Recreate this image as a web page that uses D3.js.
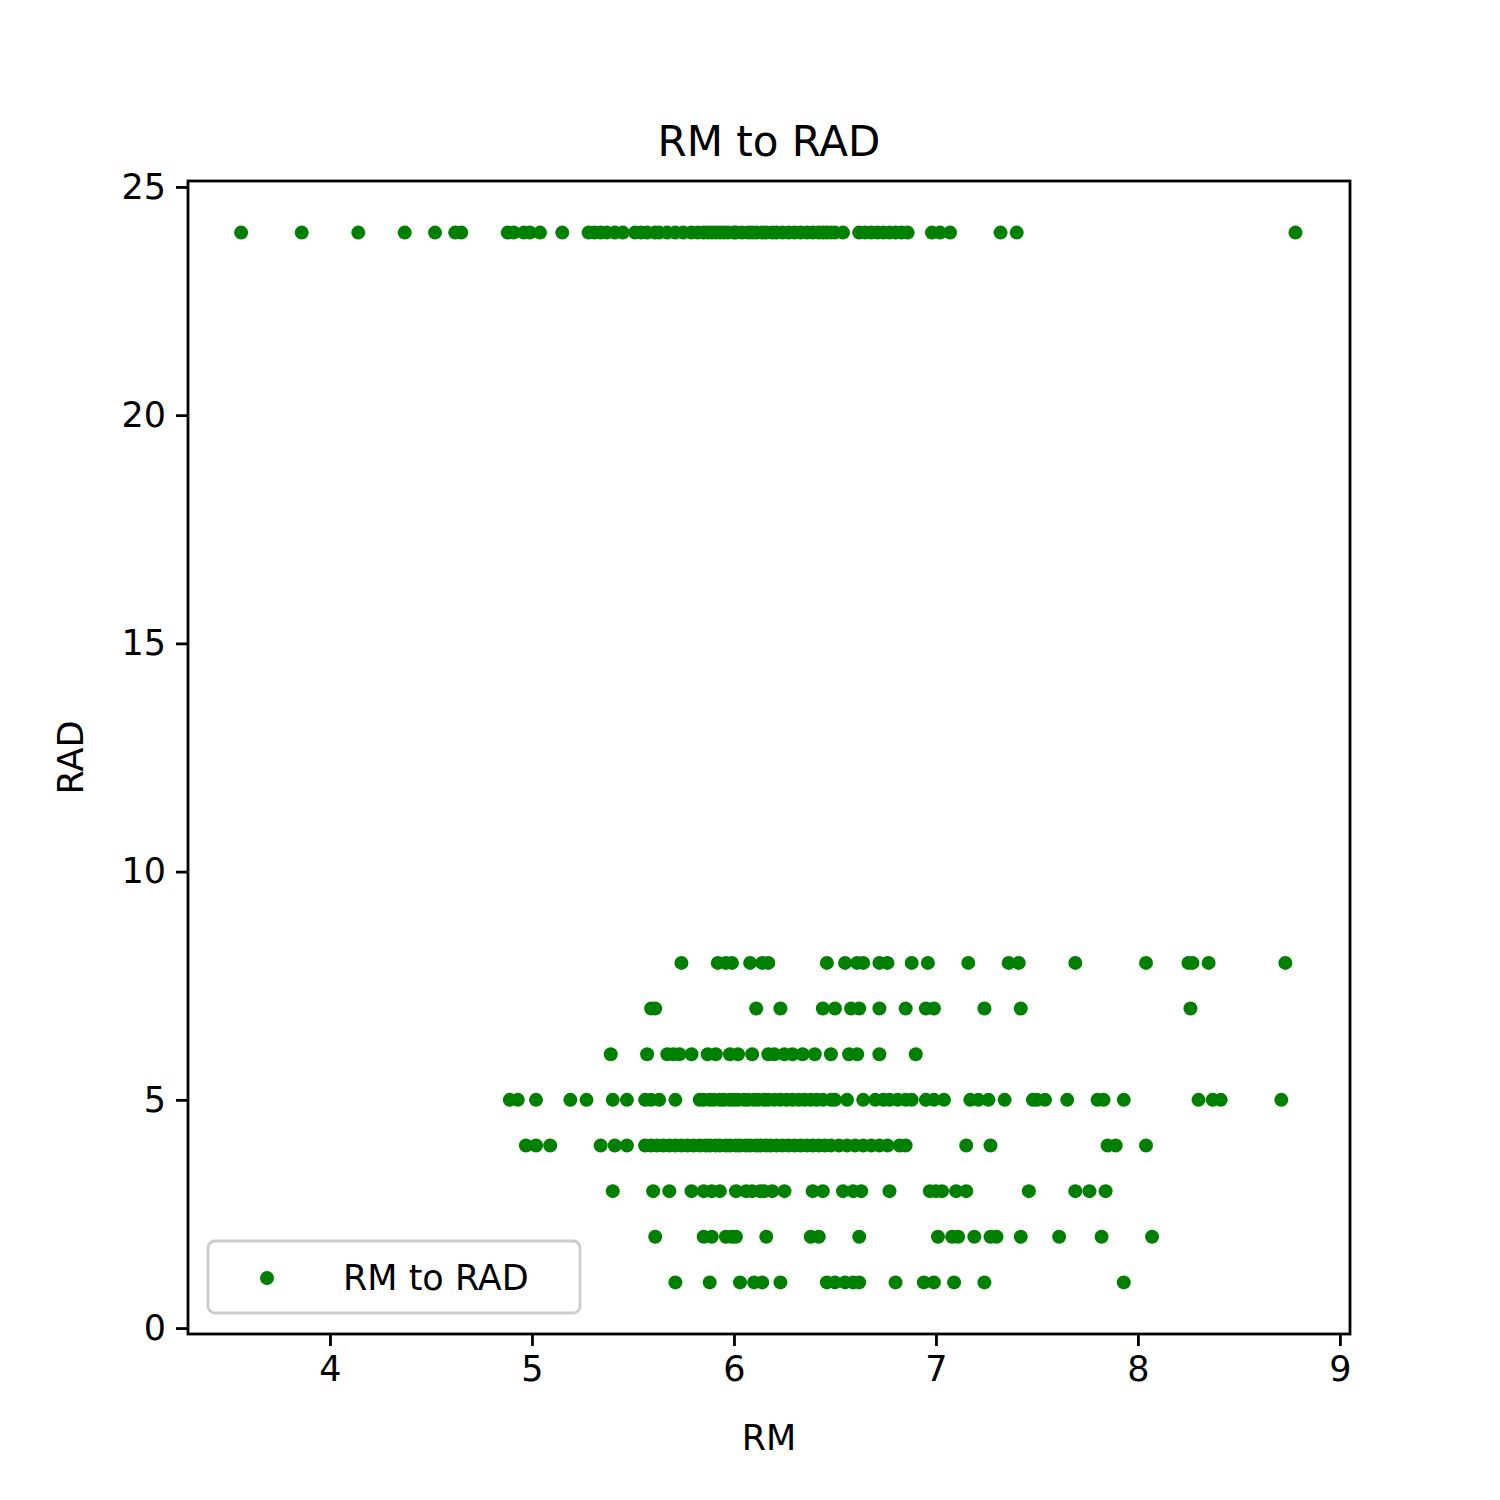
<!DOCTYPE html><html><head><script src="https://cdn.jsdelivr.net/npm/d3@7"></script>
<style>body{margin:0;background:#fff}text{font-family:"DejaVu Sans",sans-serif}</style></head><body><svg id="c" width="1500" height="1500"></svg><script>
const rad24=[3.56,3.86,4.14,4.37,4.52,4.62,4.65,4.88,4.91,4.96,4.99,5.04,5.15,5.28,5.31,5.34,5.37,5.41,5.45,5.51,5.54,5.57,5.61,5.63,5.67,5.71,5.75,5.79,5.82,5.85,5.87,5.89,5.91,5.93,5.95,5.97,6.00,6.01,6.04,6.07,6.09,6.11,6.14,6.16,6.19,6.21,6.24,6.27,6.30,6.33,6.36,6.39,6.42,6.44,6.46,6.48,6.50,6.54,6.62,6.65,6.68,6.71,6.74,6.77,6.80,6.83,6.86,6.98,7.02,7.07,7.32,7.40,8.78];
const rad8=[5.74,5.92,5.96,5.99,6.08,6.14,6.17,6.46,6.55,6.61,6.64,6.72,6.76,6.88,6.96,7.16,7.36,7.41,7.69,8.04,8.25,8.27,8.35,8.73];
const rad7=[5.59,5.61,6.11,6.23,6.44,6.50,6.58,6.62,6.72,6.85,6.95,6.99,7.24,7.42,8.26];
const rad6=[5.39,5.57,5.67,5.70,5.73,5.79,5.87,5.91,5.98,6.02,6.09,6.17,6.20,6.25,6.29,6.34,6.40,6.48,6.57,6.61,6.72,6.90];
const rad5=[4.89,4.93,5.02,5.19,5.27,5.40,5.47,5.56,5.59,5.63,5.71,5.83,5.85,5.88,5.90,5.93,5.95,5.98,6.00,6.02,6.05,6.07,6.10,6.12,6.15,6.17,6.20,6.23,6.26,6.29,6.32,6.35,6.38,6.41,6.44,6.48,6.50,6.56,6.64,6.70,6.74,6.77,6.81,6.85,6.88,6.95,6.99,7.04,7.17,7.21,7.26,7.34,7.48,7.50,7.54,7.65,7.80,7.83,7.93,8.30,8.37,8.41,8.71];
const rad4=[4.97,5.02,5.09,5.34,5.41,5.47,5.56,5.59,5.62,5.65,5.68,5.71,5.74,5.77,5.80,5.83,5.86,5.88,5.91,5.93,5.96,5.98,6.01,6.03,6.06,6.08,6.11,6.13,6.16,6.18,6.21,6.24,6.27,6.30,6.33,6.36,6.39,6.42,6.45,6.48,6.52,6.56,6.60,6.64,6.68,6.72,6.76,6.82,6.85,7.15,7.27,7.85,7.89,8.04];
const rad3=[5.40,5.60,5.68,5.79,5.85,5.89,5.93,6.01,6.06,6.09,6.13,6.15,6.19,6.25,6.39,6.44,6.54,6.59,6.63,6.77,6.97,7.00,7.03,7.10,7.15,7.46,7.69,7.76,7.84];
const rad2=[5.61,5.85,5.89,5.96,5.99,6.01,6.16,6.38,6.42,6.62,7.01,7.08,7.11,7.19,7.27,7.30,7.42,7.61,7.82,8.07];
const rad1=[5.71,5.88,6.03,6.10,6.14,6.23,6.46,6.50,6.55,6.59,6.62,6.80,6.94,6.99,7.09,7.24,7.93];
const xTicks=[4,5,6,7,8,9], yTicks=[0,5,10,15,20,25];
const groups=[[24,rad24],[8,rad8],[7,rad7],[6,rad6],[5,rad5],[4,rad4],[3,rad3],[2,rad2],[1,rad1]];
const pts=groups.flatMap(([r,xs])=>xs.map(x=>({x,y:r})));
const svg=d3.select("#c");
const L=188,R=1350,T=181,B=1334;
const x=d3.scaleLinear().domain([3.297,9.050]).range([L,R]);
const y=d3.scaleLinear().domain([-0.13,25.13]).range([B,T]);
const fs=35;
svg.append("g").selectAll("circle").data(pts).join("circle").attr("cx",d=>x(d.x)).attr("cy",d=>y(d.y)).attr("r",7).attr("fill","green");
const ax=svg.append("g").attr("transform",`translate(0,${B})`).call(d3.axisBottom(x).tickValues(xTicks).tickSize(12).tickPadding(10).tickFormat(d3.format("d")));
const ay=svg.append("g").attr("transform",`translate(${L},0)`).call(d3.axisLeft(y).tickValues(yTicks).tickSize(12).tickPadding(10).tickFormat(d3.format("d")));
[ax,ay].forEach(a=>{a.select(".domain").remove();a.selectAll("line").attr("stroke","#000").attr("stroke-width",2.8);a.selectAll("text").attr("font-size",fs).attr("fill","#000").attr("font-family","DejaVu Sans");});
svg.append("rect").attr("x",L).attr("y",T).attr("width",R-L).attr("height",B-T).attr("fill","none").attr("stroke","#000").attr("stroke-width",2.8);
svg.append("text").attr("x",(L+R)/2).attr("y",156).attr("text-anchor","middle").attr("font-size",42).text("RM to RAD");
svg.append("text").attr("x",(L+R)/2).attr("y",1450).attr("text-anchor","middle").attr("font-size",fs).text("RM");
svg.append("text").attr("transform",`translate(83,${(T+B)/2}) rotate(-90)`).attr("text-anchor","middle").attr("font-size",fs).text("RAD");
const lg=svg.append("g");
lg.append("rect").attr("x",208).attr("y",1241).attr("width",372).attr("height",72).attr("rx",7).attr("fill","#fff").attr("fill-opacity",0.8).attr("stroke","#ccc").attr("stroke-width",2.8);
lg.append("circle").attr("cx",267).attr("cy",1278).attr("r",7).attr("fill","green");
lg.append("text").attr("x",343).attr("y",1290).attr("font-size",fs).text("RM to RAD");
</script></body></html>
